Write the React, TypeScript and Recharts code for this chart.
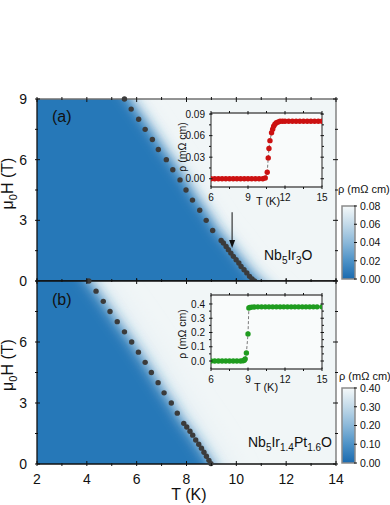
import React from "react";
import {
  ComposedChart,
  Area,
  Scatter,
  Line,
  XAxis,
  YAxis,
  CartesianGrid,
  ReferenceLine,
  ReferenceDot,
  ReferenceArea,
} from "recharts";

const FONT = '"Liberation Sans", Arial, Helvetica, sans-serif';
const BLUE = "#2878b8";
const BG = "#f1f6f7";
const DOT = "#3b3b3b";
const RED = "#cc1111";
const GREEN = "#1f9c1f";
const INK = "#111";

// (a) Nb5Ir3O: upper critical field
const hc2TA = [5.51, 5.78, 6.08, 6.34, 6.63, 6.87, 7.19, 7.45, 7.74, 7.98, 8.24, 8.53, 8.79, 9.05, 9.39, 9.48, 9.59, 9.68, 9.78, 9.88, 9.99, 10.1, 10.19, 10.31, 10.42, 10.53, 10.63, 10.73];
const hc2HA = [9.0, 8.5, 8.0, 7.5, 7.0, 6.5, 6.0, 5.5, 5.0, 4.5, 4.0, 3.5, 3.0, 2.5, 2.0, 1.88, 1.71, 1.55, 1.38, 1.22, 1.05, 0.89, 0.72, 0.56, 0.4, 0.23, 0.1, 0.0];
// superconducting region continues past the frame
const edgeHeadTA = [1.0, 3.9];
const edgeHeadHA = [14.5, 12.0];
const edgeTailTA = [11.6];
const edgeTailHA = [-1.0];

// (b) Nb5Ir1.4Pt1.6O
const hc2TB = [4.08, 4.37, 4.66, 4.93, 5.22, 5.51, 5.8, 6.07, 6.34, 6.59, 6.86, 7.1, 7.39, 7.63, 7.89, 8.01, 8.14, 8.25, 8.37, 8.49, 8.6, 8.7, 8.8, 8.9, 8.98];
const hc2HB = [9.0, 8.5, 8.0, 7.5, 7.0, 6.5, 6.0, 5.5, 5.0, 4.5, 4.0, 3.5, 3.0, 2.5, 2.0, 1.82, 1.61, 1.42, 1.18, 0.97, 0.78, 0.58, 0.38, 0.18, 0.02];
const edgeHeadTB = [0.5, 2.3];
const edgeHeadHB = [15.0, 12.0];
const edgeTailTB = [9.5];
const edgeTailHB = [-1.0];

// insets: rho(T) at zero field
const insetTA = [6.0, 6.3, 6.6, 6.9, 7.2, 7.5, 7.8, 8.1, 8.4, 8.7, 9.0, 9.3, 9.6, 9.9, 10.2, 10.4, 10.56, 10.64, 10.7, 10.78, 10.91, 11.0, 11.08, 11.18, 11.3, 11.45, 11.6, 11.8, 12.0, 12.3, 12.6, 12.9, 13.2, 13.5, 13.8, 14.1, 14.4, 14.7, 15.0];
const insetRhoA = [0, 0, 0, 0, 0, 0, 0, 0, 0, 0, 0, 0, 0, 0, 0, 0.001, 0.009, 0.029, 0.042, 0.053, 0.064, 0.069, 0.073, 0.076, 0.078, 0.079, 0.08, 0.08, 0.08, 0.08, 0.08, 0.08, 0.08, 0.08, 0.08, 0.08, 0.08, 0.08, 0.08];
const insetTB = [6.0, 6.3, 6.6, 6.9, 7.2, 7.5, 7.8, 8.1, 8.4, 8.6, 8.7, 8.77, 8.87, 9.0, 9.07, 9.15, 9.3, 9.5, 9.8, 10.1, 10.4, 10.7, 11.0, 11.3, 11.6, 11.9, 12.2, 12.5, 12.8, 13.1, 13.4, 13.7, 14.0, 14.3, 14.6, 15.0];
const insetRhoB = [0, 0, 0, 0, 0, 0, 0, 0, 0, 0.002, 0.005, 0.014, 0.056, 0.19, 0.372, 0.376, 0.378, 0.379, 0.38, 0.38, 0.38, 0.38, 0.38, 0.38, 0.38, 0.38, 0.38, 0.38, 0.38, 0.38, 0.38, 0.38, 0.38, 0.38, 0.38, 0.38];

// axes
const mainTicksX = [2, 3, 4, 5, 6, 7, 8, 9, 10, 11, 12, 13, 14];
const mainMajorX = [2, 4, 6, 8, 10, 12, 14];
const mainTicksY = [0, 1.5, 3, 4.5, 6, 7.5, 9];
const mainMajorY = [0, 3, 6, 9];
const insetTicksX = [6, 7.5, 9, 10.5, 12, 13.5, 15];
const insetMajorX = [6, 9, 12, 15];
const insetTicksYA = [0, 0.015, 0.03, 0.045, 0.06, 0.075, 0.09];
const insetMajorYA = [0, 0.03, 0.06, 0.09];
const insetTicksYB = [0, 0.05, 0.1, 0.15, 0.2, 0.25, 0.3, 0.35, 0.4];
const insetMajorYB = [0, 0.1, 0.2, 0.3, 0.4];
const cbTicksA = [0, 0.02, 0.04, 0.06, 0.08];
const cbTicksB = [0, 0.1, 0.2, 0.3, 0.4];

// arrow marking the kink in (a)
const arrowT = 9.83;
const arrowFromH = 3.4;
const arrowTipH = 1.63;

const pts = (ts: number[], hs: number[]) => ts.map((T, i) => ({ T, H: hs[i] }));
const rhoPts = (ts: number[], rs: number[]) => ts.map((T, i) => ({ T, rho: rs[i] }));

const dataA = pts(hc2TA, hc2HA);
const dataB = pts(hc2TB, hc2HB);
const edgeA = [...pts(edgeHeadTA, edgeHeadHA), ...dataA, ...pts(edgeTailTA, edgeTailHA)];
const edgeB = [...pts(edgeHeadTB, edgeHeadHB), ...dataB, ...pts(edgeTailTB, edgeTailHB)];

type Side = "bottom" | "top" | "left" | "right";
type TickStyle = { big: number; small: number; gap: number; size: number; fmt: (v: number) => string };

const MAIN: TickStyle = { big: 5, small: 3, gap: 18, size: 14, fmt: (v) => String(v) };

function tickFn(side: Side, majors: number[], labels: number[], o: TickStyle) {
  return (p: any) => {
    const v = Number(p.payload?.value);
    const has = (arr: number[]) => arr.some((m) => Math.abs(m - v) < 1e-9);
    const len = has(majors) ? o.big : o.small;
    const x = Number(p.x);
    const y = Number(p.y);
    const show = has(labels);
    let line: any = null;
    let text: any = null;
    if (side === "bottom") {
      line = <line x1={x} y1={y} x2={x} y2={y - len} />;
      if (show) text = <text x={x} y={y + o.gap} textAnchor="middle">{o.fmt(v)}</text>;
    } else if (side === "top") {
      line = <line x1={x} y1={y} x2={x} y2={y + len} />;
    } else if (side === "left") {
      line = <line x1={x} y1={y} x2={x + len} y2={y} />;
      if (show) text = <text x={x - o.gap} y={y + o.size * 0.36} textAnchor="end">{o.fmt(v)}</text>;
    } else {
      line = <line x1={x} y1={y} x2={x - len} y2={y} />;
      if (show) text = <text x={x + o.gap} y={y + o.size * 0.36} textAnchor="start">{o.fmt(v)}</text>;
    }
    return (
      <g>
        <g stroke={INK} strokeWidth={1}>{line}</g>
        {text && <g fill={INK} fontSize={o.size} fontFamily={FONT}>{text}</g>}
      </g>
    );
  };
}

const hcDot = (p: any) => <circle cx={p.cx} cy={p.cy} r={2.7} fill={DOT} />;

function HcPanel(props: {
  id: string;
  height: number;
  margin: { top: number; right: number; bottom: number; left: number };
  data: { T: number; H: number }[];
  edge: { T: number; H: number }[];
  blur: number;
  shift: number;
  halo: number;
  haloColor: string;
  xLabels: number[];
  yLabels: number[];
  xHeight: number;
  topColor: string;
  arrow?: boolean;
}) {
  const p = props;
  return (
    <ComposedChart width={390} height={p.height} margin={p.margin}>
      <defs>
        <filter id={`sc-${p.id}`} x="-20%" y="-20%" width="140%" height="140%">
          <feOffset dx={p.shift} dy={0} result="o" />
          <feGaussianBlur in="o" stdDeviation={p.blur} />
        </filter>
        <filter id={`halo-${p.id}`} x="-30%" y="-30%" width="160%" height="160%">
          <feOffset dx={p.shift + 4} dy={0} result="o" />
          <feGaussianBlur in="o" stdDeviation={p.halo} />
        </filter>
      </defs>
      <CartesianGrid fill={BG} stroke="none" horizontal={false} vertical={false} />
      <XAxis xAxisId="c" type="number" dataKey="T" domain={[2, 14]} allowDataOverflow hide />
      <YAxis yAxisId="c" type="number" dataKey="H" domain={[0, 9]} allowDataOverflow hide />
      <Area
        xAxisId="c"
        yAxisId="c"
        data={p.edge}
        dataKey="H"
        type="linear"
        baseValue={-6}
        fill={p.haloColor}
        fillOpacity={1}
        stroke="none"
        filter={`url(#halo-${p.id})`}
        isAnimationActive={false}
      />
      <Area
        xAxisId="c"
        yAxisId="c"
        data={p.edge}
        dataKey="H"
        type="linear"
        baseValue={-6}
        fill={BLUE}
        fillOpacity={1}
        stroke="none"
        filter={`url(#sc-${p.id})`}
        isAnimationActive={false}
      />
      <Scatter data={p.data} dataKey="H" shape={hcDot} isAnimationActive={false} />
      {p.arrow && (
        <ReferenceLine
          segment={[
            { x: arrowT, y: arrowFromH },
            { x: arrowT, y: arrowTipH + 0.3 },
          ]}
          stroke={INK}
          strokeWidth={1}
        />
      )}
      {p.arrow && (
        <ReferenceDot
          x={arrowT}
          y={arrowTipH}
          shape={(q: any) => (
            <polygon points={`${q.cx - 3},${q.cy - 8} ${q.cx + 3},${q.cy - 8} ${q.cx},${q.cy}`} fill={INK} />
          )}
        />
      )}
      <XAxis
        type="number"
        dataKey="T"
        domain={[2, 14]}
        ticks={mainTicksX}
        interval={0}
        height={p.xHeight}
        tickSize={0}
        tickLine={false}
        axisLine={{ stroke: INK, strokeWidth: 1.3 }}
        tick={tickFn("bottom", mainMajorX, p.xLabels, MAIN)}
      />
      <XAxis
        xAxisId="t"
        orientation="top"
        type="number"
        dataKey="T"
        domain={[2, 14]}
        allowDataOverflow
        ticks={mainTicksX}
        interval={0}
        height={1}
        tickSize={0}
        tickLine={false}
        axisLine={{ stroke: p.topColor, strokeWidth: 1.3 }}
        tick={tickFn("top", mainMajorX, [], MAIN)}
      />
      <YAxis
        type="number"
        dataKey="H"
        domain={[0, 9]}
        ticks={mainTicksY}
        interval={0}
        width={30}
        tickSize={0}
        tickLine={false}
        axisLine={{ stroke: INK, strokeWidth: 1.3 }}
        tick={tickFn("left", mainMajorY, p.yLabels, { ...MAIN, gap: 8 })}
      />
      <YAxis
        yAxisId="r"
        orientation="right"
        type="number"
        dataKey="H"
        domain={[0, 9]}
        allowDataOverflow
        ticks={mainTicksY}
        interval={0}
        width={1}
        tickSize={0}
        tickLine={false}
        axisLine={{ stroke: "#707070", strokeWidth: 1.3 }}
        tick={tickFn("right", mainMajorY, [], MAIN)}
      />
    </ComposedChart>
  );
}

const INSET: TickStyle = { big: 3.5, small: 2, gap: 12, size: 10, fmt: (v) => String(v) };

function Inset(props: {
  data: { T: number; rho: number }[];
  color: string;
  domain: [number, number];
  ticks: number[];
  majors: number[];
  digits: number;
}) {
  const p = props;
  const yStyle = { ...INSET, gap: 4, fmt: (v: number) => v.toFixed(p.digits) };
  return (
    <ComposedChart width={155} height={110} margin={{ top: 7, right: 7, bottom: 1, left: 6 }}>
      <CartesianGrid fill="#f9fbfb" stroke="none" horizontal={false} vertical={false} />
      <Line
        data={p.data}
        dataKey="rho"
        type="linear"
        stroke="#7a7a7a"
        strokeWidth={1}
        strokeDasharray="3 2"
        dot={false}
        isAnimationActive={false}
      />
      <Scatter
        data={p.data}
        dataKey="rho"
        shape={(q: any) => <circle cx={q.cx} cy={q.cy} r={2.7} fill={p.color} />}
        isAnimationActive={false}
      />
      <XAxis
        type="number"
        dataKey="T"
        domain={[6, 15]}
        allowDataOverflow
        ticks={insetTicksX}
        interval={0}
        height={27}
        tickSize={0}
        tickLine={false}
        axisLine={{ stroke: "#555", strokeWidth: 1.3 }}
        tick={tickFn("bottom", insetMajorX, insetMajorX, INSET)}
      />
      <XAxis
        xAxisId="t"
        orientation="top"
        type="number"
        dataKey="T"
        domain={[6, 15]}
        allowDataOverflow
        ticks={insetTicksX}
        interval={0}
        height={1}
        tickSize={0}
        tickLine={false}
        axisLine={{ stroke: "#555", strokeWidth: 1.3 }}
        tick={tickFn("top", insetMajorX, [], INSET)}
      />
      <YAxis
        type="number"
        dataKey="rho"
        domain={p.domain}
        allowDataOverflow
        ticks={p.ticks}
        interval={0}
        width={30}
        tickSize={0}
        tickLine={false}
        axisLine={{ stroke: "#555", strokeWidth: 1.3 }}
        tick={tickFn("left", p.majors, p.majors, yStyle)}
      />
      <YAxis
        yAxisId="r"
        orientation="right"
        type="number"
        dataKey="rho"
        domain={p.domain}
        allowDataOverflow
        ticks={p.ticks}
        interval={0}
        width={1}
        tickSize={0}
        tickLine={false}
        axisLine={{ stroke: "#555", strokeWidth: 1.3 }}
        tick={tickFn("right", p.majors, [], INSET)}
      />
    </ComposedChart>
  );
}

// colour scale: full range of rho shown by the bar
function ColorBar(props: { id: string; max: number; ticks: number[]; bottom: number }) {
  const p = props;
  const st: TickStyle = { big: 3, small: 3, gap: 3, size: 10.5, fmt: (v) => v.toFixed(2) };
  const range = [
    { x: 0, v: p.max },
    { x: 1, v: p.max },
  ];
  return (
    <ComposedChart width={60} height={95} margin={{ top: 11, right: 34, bottom: p.bottom, left: 12 }}>
      <defs>
        <linearGradient id={`cb-${p.id}`} x1="0" y1="0" x2="0" y2="1">
          <stop offset="0%" stopColor="#f5f9fa" />
          <stop offset="25%" stopColor="#c3dae9" />
          <stop offset="50%" stopColor="#8bb8d9" />
          <stop offset="75%" stopColor="#4d92c7" />
          <stop offset="100%" stopColor="#1a6aaf" />
        </linearGradient>
      </defs>
      <XAxis type="number" dataKey="x" domain={[0, 1]} allowDataOverflow hide />
      <Area
        data={range}
        dataKey="v"
        type="linear"
        baseValue={0}
        fill={`url(#cb-${p.id})`}
        fillOpacity={1}
        stroke="none"
        isAnimationActive={false}
      />
      <ReferenceArea y1={0} y2={p.max} x1={0} x2={1} fill="none" stroke="#8a8a8a" strokeWidth={1.5} />
      <YAxis
        orientation="right"
        type="number"
        dataKey="v"
        domain={[0, p.max]}
        allowDataOverflow
        ticks={p.ticks}
        interval={0}
        width={1}
        tickSize={0}
        tickLine={false}
        axisLine={false}
        tick={tickFn("right", p.ticks, p.ticks, st)}
      />
    </ComposedChart>
  );
}

export default function App() {
  return (
    <div
      style={{
        position: "absolute",
        left: 0,
        top: 0,
        width: 390,
        height: 505,
        background: "#fff",
        overflow: "hidden",
        fontFamily: FONT,
      }}
    >
      <div style={{ position: "absolute", left: 0, top: 0 }}>
        <HcPanel
          id="a"
          height={300}
          margin={{ top: 98, right: 53, bottom: 18, left: 7 }}
          data={dataA}
          edge={edgeA}
          blur={6.5}
          shift={5}
          halo={10}
          haloColor="#cfe2ed"
          xLabels={[]}
          yLabels={[0, 3, 6, 9]}
          xHeight={1}
          topColor="#707070"
          arrow
        />
      </div>
      <div style={{ position: "absolute", left: 0, top: 270 }}>
        <HcPanel
          id="b"
          height={235}
          margin={{ top: 10, right: 53, bottom: 6, left: 7 }}
          data={dataB}
          edge={edgeB}
          blur={7}
          shift={0}
          halo={16}
          haloColor="#d0e3ee"
          xLabels={mainMajorX}
          yLabels={[0, 3, 6]}
          xHeight={35}
          topColor={INK}
        />
      </div>
      <div style={{ position: "absolute", left: 175, top: 105 }}>
        <Inset
          data={rhoPts(insetTA, insetRhoA)}
          color={RED}
          domain={[-0.0115, 0.0915]}
          ticks={insetTicksYA}
          majors={insetMajorYA}
          digits={2}
        />
      </div>
      <div style={{ position: "absolute", left: 175, top: 287 }}>
        <Inset
          data={rhoPts(insetTB, insetRhoB)}
          color={GREEN}
          domain={[-0.056, 0.463]}
          ticks={insetTicksYB}
          majors={insetMajorYB}
          digits={1}
        />
      </div>
      <div style={{ position: "absolute", left: 330, top: 195 }}>
        <ColorBar id="a" max={0.08} ticks={cbTicksA} bottom={11} />
      </div>
      <div style={{ position: "absolute", left: 330, top: 377 }}>
        <ColorBar id="b" max={0.4} ticks={cbTicksB} bottom={9} />
      </div>
      <svg
        width={390}
        height={505}
        style={{ position: "absolute", left: 0, top: 0, pointerEvents: "none" }}
        fontFamily={FONT}
        fill={INK}
      >
        <text x={52} y={122} fontSize={16}>(a)</text>
        <text x={52} y={305} fontSize={16}>(b)</text>
        <text x={264} y={260} fontSize={14}>
          Nb<tspan dy={3.5} fontSize={10}>5</tspan>
          <tspan dy={-3.5}>Ir</tspan>
          <tspan dy={3.5} fontSize={10}>3</tspan>
          <tspan dy={-3.5}>O</tspan>
        </text>
        <text x={248} y={447} fontSize={14}>
          Nb<tspan dy={3.5} fontSize={10}>5</tspan>
          <tspan dy={-3.5}>Ir</tspan>
          <tspan dy={3.5} fontSize={10}>1.4</tspan>
          <tspan dy={-3.5}>Pt</tspan>
          <tspan dy={3.5} fontSize={10}>1.6</tspan>
          <tspan dy={-3.5}>O</tspan>
        </text>
        <text x={13} y={183.5} fontSize={16} textAnchor="middle" transform="rotate(-90 13 183.5)">
          μ<tspan dy={4} fontSize={11}>0</tspan>
          <tspan dy={-4}>H (T)</tspan>
        </text>
        <text x={13} y={365} fontSize={16} textAnchor="middle" transform="rotate(-90 13 365)">
          μ<tspan dy={4} fontSize={11}>0</tspan>
          <tspan dy={-4}>H (T)</tspan>
        </text>
        <text x={189} y={500} fontSize={16} textAnchor="middle">T (K)</text>
        <text x={268} y={205} fontSize={11} textAnchor="middle">T (K)</text>
        <text x={266} y={391} fontSize={11} textAnchor="middle">T (K)</text>
        <text x={186} y={147} fontSize={10.5} textAnchor="middle" transform="rotate(-90 186 147)">ρ (mΩ cm)</text>
        <text x={186} y={334} fontSize={10.5} textAnchor="middle" transform="rotate(-90 186 334)">ρ (mΩ cm)</text>
        <text x={338} y={193} fontSize={11}>ρ (mΩ cm)</text>
        <text x={339} y={380} fontSize={11}>ρ (mΩ cm)</text>
      </svg>
    </div>
  );
}
